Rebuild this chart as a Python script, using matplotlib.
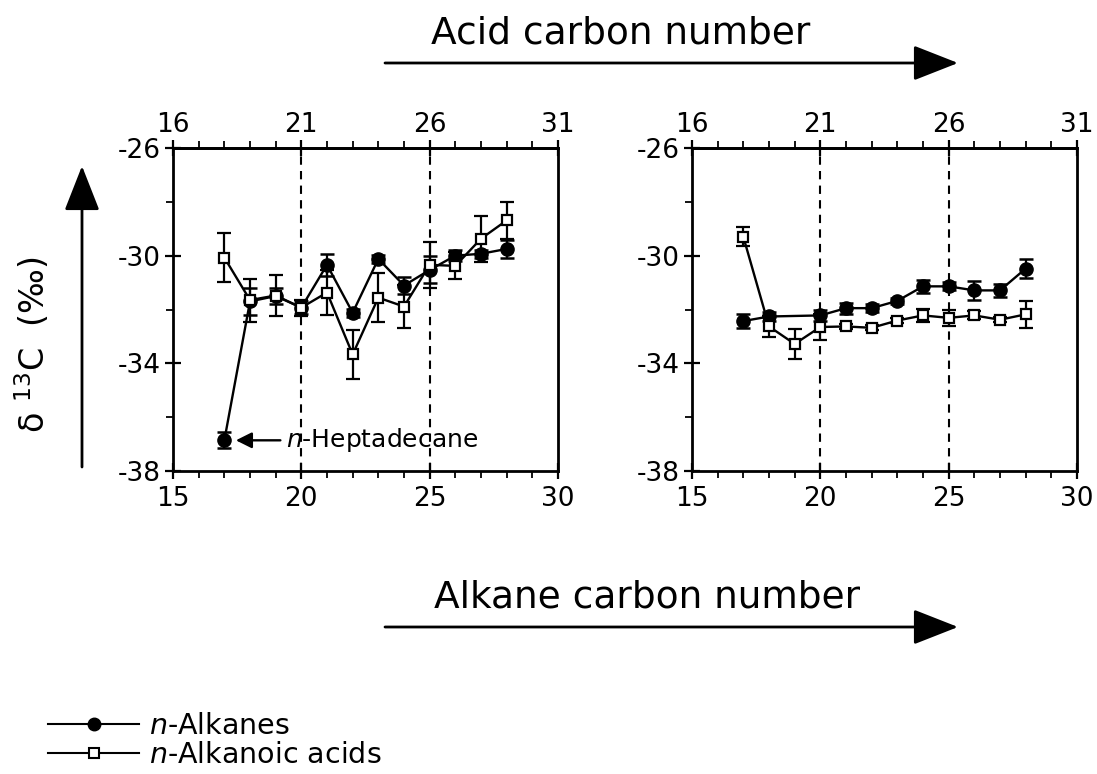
import numpy as np
import matplotlib
matplotlib.use('Agg')
import matplotlib.pyplot as plt
from matplotlib.ticker import MultipleLocator

plt.rcParams['axes.unicode_minus'] = False

# dane
carbon = [17, 18, 19, 20, 21, 22, 23, 24, 25, 26, 27, 28]

# panel lewy
alk_left = [-36.86, -31.70, -31.50, -31.93, -30.34, -32.12, -30.12, -31.11, -30.53, -30.00, -29.93, -29.75]
alk_left_err = [0.30, 0.50, 0.30, 0.25, 0.40, 0.15, 0.15, 0.30, 0.50, 0.20, 0.15, 0.35]
acid_left = [-30.07, -31.65, -31.48, -31.93, -31.37, -33.67, -31.56, -31.89, -30.34, -30.38, -29.37, -28.69]
acid_left_err = [0.90, 0.80, 0.75, 0.30, 0.85, 0.90, 0.90, 0.80, 0.85, 0.50, 0.85, 0.70]

# panel prawy (brak alkanu C19)
alk_right_carbon = [17, 18, 20, 21, 22, 23, 24, 25, 26, 27, 28]
alk_right = [-32.43, -32.26, -32.22, -31.95, -31.95, -31.68, -31.14, -31.14, -31.29, -31.29, -30.48]
alk_right_err = [0.25, 0.15, 0.20, 0.20, 0.15, 0.10, 0.25, 0.15, 0.35, 0.25, 0.35]
acid_right = [-29.30, -32.63, -33.28, -32.65, -32.63, -32.68, -32.41, -32.22, -32.31, -32.22, -32.38, -32.18]
acid_right_err = [0.35, 0.40, 0.55, 0.50, 0.10, 0.10, 0.10, 0.25, 0.30, 0.15, 0.10, 0.50]

alkane_ticks = [15, 20, 25, 30]
acid_tick_labels = ['16', '21', '26', '31']
y_ticks = [-26, -30, -34, -38]

W, H = 1097, 774
fig = plt.figure(figsize=(W / 100, H / 100), dpi=100)


def px_box(x0, y0, x1, y1):
    return [x0 / W, 1 - y1 / H, (x1 - x0) / W, (y1 - y0) / H]


def draw_panel(ax, alk_x, alk_y, alk_e, acid_y, acid_e):
    for xv in (20, 25):
        ax.axvline(xv, color='k', lw=1.5, ls=(0, (4, 3)), zorder=1)
    ax.errorbar(alk_x, alk_y, yerr=alk_e, fmt='-o', color='k', ms=9.5, lw=1.7,
                elinewidth=1.6, capsize=5, capthick=1.8, zorder=3)
    ax.errorbar(carbon, acid_y, yerr=acid_e, fmt='-s', color='k', mfc='white', mec='k',
                mew=1.6, ms=7, lw=1.7, elinewidth=1.6, capsize=5, capthick=1.8, zorder=4)
    ax.set_xlim(15, 30)
    ax.set_ylim(-38, -26)
    ax.set_xticks(alkane_ticks)
    ax.set_yticks(y_ticks)
    ax.xaxis.set_minor_locator(MultipleLocator(1))
    ax.yaxis.set_minor_locator(MultipleLocator(2))
    ax.tick_params(which='major', direction='inout', length=12, width=1.6,
                   labelsize=19, pad=3)
    ax.tick_params(which='minor', direction='out', length=5, width=1.3)
    ax.tick_params(axis='x', which='major', pad=5)
    for sp in ax.spines.values():
        sp.set_linewidth(2)
    sec = ax.secondary_xaxis('top')
    sec.set_xticks(alkane_ticks, labels=acid_tick_labels)
    sec.xaxis.set_minor_locator(MultipleLocator(1))
    sec.tick_params(which='major', direction='inout', length=12, width=1.6,
                    labelsize=19, pad=1)
    sec.tick_params(which='minor', direction='out', length=5, width=1.3)
    sec.spines['top'].set_linewidth(2)


ax1 = fig.add_axes(px_box(173, 148, 558, 471))
draw_panel(ax1, carbon, alk_left, alk_left_err, acid_left, acid_left_err)
ax1.annotate(r'$n$-Heptadecane', xy=(17.45, -36.86), xytext=(19.4, -36.86),
             fontsize=18, va='center', ha='left',
             arrowprops=dict(arrowstyle='-|>', color='k', lw=1.7,
                             mutation_scale=24, shrinkA=2, shrinkB=0))

ax2 = fig.add_axes(px_box(692, 148, 1077, 471))
draw_panel(ax2, alk_right_carbon, alk_right, alk_right_err, acid_right, acid_right_err)

# strzałki i opisy osi
arrow_kw = dict(arrowstyle='-|>,head_length=1.4,head_width=0.55', color='k', lw=2,
                mutation_scale=20, shrinkA=0, shrinkB=0)
fig.text(621 / W, 1 - 33 / H, 'Acid carbon number', fontsize=27, ha='center', va='center')
ax1.annotate('', xy=(958 / W, 1 - 63 / H), xytext=(385 / W, 1 - 63 / H),
             xycoords='figure fraction', textcoords='figure fraction', arrowprops=arrow_kw,
             annotation_clip=False)
fig.text(647 / W, 1 - 597 / H, 'Alkane carbon number', fontsize=27, ha='center', va='center')
ax1.annotate('', xy=(958 / W, 1 - 627 / H), xytext=(385 / W, 1 - 627 / H),
             xycoords='figure fraction', textcoords='figure fraction', arrowprops=arrow_kw,
             annotation_clip=False)
fig.text(33 / W, 1 - 345 / H, 'δ $^{13}$C  (‰)', fontsize=24, rotation=90,
         ha='center', va='center')
ax1.annotate('', xy=(82 / W, 1 - 166 / H), xytext=(82 / W, 1 - 467 / H),
             xycoords='figure fraction', textcoords='figure fraction', arrowprops=arrow_kw,
             annotation_clip=False)

# legenda
h1 = plt.Line2D([], [], color='k', lw=1.5, marker='o', ms=9)
h2 = plt.Line2D([], [], color='k', lw=1.5, marker='s', ms=7, mfc='white', mew=1.5)
fig.legend([h1, h2], [r'$n$-Alkanes', r'$n$-Alkanoic acids'], loc='upper left',
           bbox_to_anchor=(48 / W, 1 - 712 / H), frameon=False, fontsize=20.5,
           handlelength=3.2, handletextpad=0.35, labelspacing=0.05,
           borderaxespad=0, borderpad=0)

fig.savefig('out.png', dpi=100)
